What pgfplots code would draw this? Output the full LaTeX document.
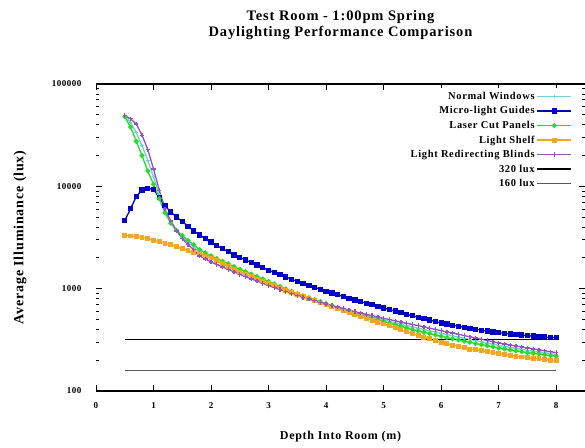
\documentclass[border=0pt]{standalone}
\usepackage{fontspec}
\setmainfont{Liberation Serif}[LetterSpace=6]
\usepackage{pgfplots}
\usepackage{pgfplotstable}
\pgfplotsset{compat=1.18}
\usetikzlibrary{calc}
\definecolor{cNW}{RGB}{110,210,210}
\definecolor{cMLG}{RGB}{0,0,200}
\definecolor{cLCP}{RGB}{40,220,40}
\definecolor{cLS}{RGB}{245,165,30}
\definecolor{cLRB}{RGB}{150,80,200}
\pgfplotstableread{
x nw mlg lcp ls lrb
0.5 48400 4620 47900 3310 49000
0.6 42000 6030 38000 3270 45700
0.7 33500 7940 27500 3240 40700
0.8 25000 9230 19950 3160 31600
0.9 18000 9550 14130 3090 22900
1.0 12400 9330 10470 2985 14800
1.1 8300 7760 7590 2880 9120
1.2 5750 6460 5500 2790 6030
1.3 4470 5620 4370 2690 4570
1.4 3700 5010 3720 2570 3670
1.5 3200 4520 3310 2455 3090
1.6 2820 4070 2950 2340 2690
1.7 2550 3670 2690 2240 2400
1.8 2250 3350 2400 2140 2090
1.9 2100 3090 2240 2065 1950
2.0 1960 2850 2090 1995 1820
2.1 1845 2630 1968 1871 1722
2.2 1740 2455 1854 1754 1629
2.3 1645 2290 1746 1644 1542
2.4 1550 2140 1644 1542 1459
2.5 1465 2020 1549 1445 1380
2.6 1390 1905 1466 1374 1312
2.7 1317 1800 1387 1306 1247
2.8 1250 1700 1312 1242 1186
2.9 1185 1600 1242 1180 1127
3.0 1124 1514 1175 1122 1072
3.1 1068 1440 1112 1067 1023
3.2 1015 1368 1052 1014 977
3.3 964 1300 995 964 933
3.4 917 1236 942 916 891
3.5 871 1175 891 871 851
3.6 837 1125 853 832 820
3.7 804 1076 817 794 791
3.8 772 1030 782 759 762
3.9 742 986 748 724 735
4.0 712 944 716 692 708
4.1 685 908 685 662 684
4.2 659 873 656 634 661
4.3 633 839 628 607 638
4.4 609 807 601 581 617
4.5 586 776 575 556 596
4.6 567 748 555 533 578
4.7 548 721 535 512 561
4.8 530 695 515 491 545
4.9 513 670 497 471 528
5.0 496 646 479 452 513
5.1 480 624 461 433 499
5.2 465 603 445 414 485
5.3 451 582 429 396 472
5.4 436 562 413 379 459
5.5 423 543 398 363 447
5.6 411 526 386 349 435
5.7 399 509 375 336 423
5.8 388 493 364 323 411
5.9 377 478 353 310 400
6.0 366 462 343 299 389
6.1 356 451 333 290 378
6.2 346 440 324 281 368
6.3 337 429 316 273 358
6.4 328 418 307 265 348
6.5 319 407 299 257 339
6.6 311 400 291 252 330
6.7 303 393 284 247 321
6.8 295 385 277 242 312
6.9 287 378 270 237 303
7.0 279 372 263 232 295
7.1 273 366 258 228 288
7.2 267 361 252 223 282
7.3 261 356 247 219 275
7.4 256 352 242 215 269
7.5 250 347 237 211 263
7.6 246 344 233 208 258
7.7 241 340 230 206 252
7.8 237 337 226 203 247
7.9 232 334 222 200 242
8.0 228 331 219 197 237
}\data
\begin{document}
\begin{tikzpicture}
\begin{axis}[
  scale only axis, width=489pt, height=307pt,
  xmin=0, xmax=8.5, ymin=100, ymax=100000, ymode=log,
  separate axis lines,
  y axis line style={draw=none},
  x axis line style={line width=1.1pt},
  xtick={0,1,2,3,4,5,6,7,8},
  xticklabels={0,1,2,3,4,5,6,7,8},
  ytick={100,1000,10000,100000},
  yticklabels={100,1000,10000,100000},
  minor ytick={200,300,400,500,600,700,800,900,2000,3000,4000,5000,6000,7000,8000,9000,20000,30000,40000,50000,60000,70000,80000,90000},
  tick align=inside,
  major tick length=6pt, minor tick length=3pt,
  every tick/.style={black, line width=0.8pt},
  tick label style={font=\bfseries\fontsize{9}{10}\selectfont},
  yticklabel style={xshift=-11pt},
  xticklabel style={yshift=-8pt},
  every axis y label/.style={at={(axis description cs:0,0.5)}, xshift=-76pt, rotate=90, anchor=center, font=\bfseries\fontsize{14}{16}\selectfont},
  every axis x label/.style={at={(axis description cs:0.5,0)}, yshift=-46pt, anchor=center, font=\bfseries\fontsize{12}{14}\selectfont},
  ylabel={Average Illuminance (lux)},
  xlabel={Depth Into Room (m)},
  every axis title/.style={at={(axis description cs:0.5,1)}, anchor=center, yshift=59pt, align=center, font=\bfseries\fontsize{14.5}{16}\selectfont},
  title={Test Room - 1:00pm Spring\\Daylighting Performance Comparison},
  legend style={at={(axis description cs:0.98,0.987)}, anchor=north east, draw=none, fill=white,
    font=\bfseries\fontsize{10.5}{12}\selectfont, row sep=1.7pt},
  legend cell align=right,
  legend plot pos=right,
  legend image code/.code={\draw[mark repeat=2,mark phase=2,#1] plot coordinates {(0pt,0pt) (17pt,0pt) (34pt,0pt)};},
]
\addplot[cNW, line width=1.3pt, mark=+, mark size=1.8pt] table[x=x,y=nw]{\data};
\addlegendentry{Normal Windows}
\addplot[cMLG, line width=1.3pt, mark=square*, mark size=2pt] table[x=x,y=mlg]{\data};
\addlegendentry{Micro-light Guides}
\addplot[cLCP, line width=1.3pt, mark=*, mark size=1.8pt] table[x=x,y=lcp]{\data};
\addlegendentry{Laser Cut Panels}
\addplot[cLS, line width=1.3pt, mark=square*, mark size=1.8pt] table[x=x,y=ls]{\data};
\addlegendentry{Light Shelf}
\addplot[cLRB, line width=1.3pt, mark=+, mark size=2.2pt] table[x=x,y=lrb]{\data};
\addlegendentry{Light Redirecting Blinds}
\addplot[black, line width=1.4pt] coordinates {(0.5,320) (8,320)};
\addlegendentry{320 lux}
\addplot[black!65, line width=0.8pt] coordinates {(0.5,160) (8,160)};
\addlegendentry{160 lux}
\coordinate (ll) at (rel axis cs:0,0);
\coordinate (ur) at (rel axis cs:1,1);
\end{axis}
\pgfresetboundingbox
\path[use as bounding box] ($(ll)+(-96pt,-56pt)$) rectangle ($(ur)+(0pt,84pt)$);
\end{tikzpicture}
\end{document}
